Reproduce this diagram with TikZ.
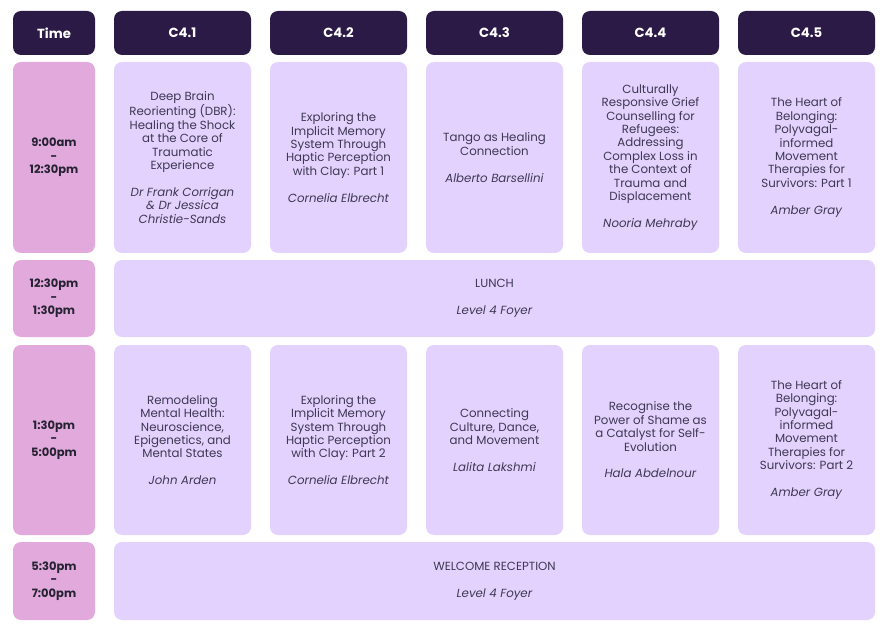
\documentclass[tikz,border=0pt]{standalone}
\usepackage{fontspec}
\setmainfont{Poppins}
\definecolor{hdr}{RGB}{42,26,69}
\definecolor{tpink}{RGB}{226,169,221}
\definecolor{lav}{RGB}{227,210,253}
\definecolor{txt}{RGB}{62,56,84}
\tikzset{
  cellbase/.style={rounded corners=8pt, inner sep=0pt, align=center, anchor=center},
  hdrcell/.style={cellbase, fill=hdr, text=white, minimum height=44pt, font={\fontsize{13.2}{15}\selectfont\bfseries}},
  timecell/.style={cellbase, fill=tpink, text=txt!60!black, minimum width=82pt, font={\fontsize{11.5}{13.5}\selectfont\bfseries}},
  sess/.style={cellbase, fill=lav, text=txt, minimum width=137pt, font={\fontsize{11.8}{13.4}\selectfont}},
  wide/.style={cellbase, fill=lav, text=txt, minimum width=761pt, font={\fontsize{11.8}{13.4}\selectfont}},
}
\newcommand{\spk}[1]{\\[13.4pt]\textit{#1}}
\begin{document}
\begin{tikzpicture}[x=1pt,y=-1pt]
\useasboundingbox (0,0) rectangle (888,628);
% header row
\node[hdrcell, minimum width=82pt] (htime) at (54,33) {Time};
\node[hdrcell, minimum width=137pt] (h1) at (182.5,33) {C4.1};
\node[hdrcell, minimum width=137pt] (h2) at (338.5,33) {C4.2};
\node[hdrcell, minimum width=137pt] (h3) at (494.5,33) {C4.3};
\node[hdrcell, minimum width=137pt] (h4) at (650.5,33) {C4.4};
\node[hdrcell, minimum width=137pt] (h5) at (806.5,33) {C4.5};
% time cells
\node[timecell, minimum height=191pt] (t1) at (54,157.5) {9:00am\\-\\12:30pm};
\node[timecell, minimum height=77pt] (t2) at (54,298.5) {12:30pm\\-\\1:30pm};
\node[timecell, minimum height=190pt] (t3) at (54,440) {1:30pm\\-\\5:00pm};
\node[timecell, minimum height=78pt] (t4) at (54,581) {5:30pm\\-\\7:00pm};
% morning sessions
\node[sess, minimum height=191pt] (a1) at (182.5,157.5) {Deep Brain\\Reorienting (DBR):\\Healing the Shock\\at the Core of\\Traumatic\\Experience\spk{Dr Frank Corrigan}\\\textit{\& Dr Jessica}\\\textit{Christie-Sands}};
\node[sess, minimum height=191pt] (a2) at (338.5,157.5) {Exploring the\\Implicit Memory\\System Through\\Haptic Perception\\with Clay: Part 1\spk{Cornelia Elbrecht}};
\node[sess, minimum height=191pt] (a3) at (494.5,157.5) {Tango as Healing\\Connection\spk{Alberto Barsellini}};
\node[sess, minimum height=191pt] (a4) at (650.5,157.5) {Culturally\\Responsive Grief\\Counselling for\\Refugees:\\Addressing\\Complex Loss in\\the Context of\\Trauma and\\Displacement\spk{Nooria Mehraby}};
\node[sess, minimum height=191pt] (a5) at (806.5,157.5) {The Heart of\\Belonging:\\Polyvagal-\\informed\\Movement\\Therapies for\\Survivors: Part 1\spk{Amber Gray}};
% lunch
\node[wide, minimum height=77pt] (lunch) at (494.5,298.5) {LUNCH\spk{Level 4 Foyer}};
% afternoon sessions
\node[sess, minimum height=190pt] (b1) at (182.5,440) {Remodeling\\Mental Health:\\Neuroscience,\\Epigenetics, and\\Mental States\spk{John Arden}};
\node[sess, minimum height=190pt] (b2) at (338.5,440) {Exploring the\\Implicit Memory\\System Through\\Haptic Perception\\with Clay: Part 2\spk{Cornelia Elbrecht}};
\node[sess, minimum height=190pt] (b3) at (494.5,440) {Connecting\\Culture, Dance,\\and Movement\spk{Lalita Lakshmi}};
\node[sess, minimum height=190pt] (b4) at (650.5,440) {Recognise the\\Power of Shame as\\a Catalyst for Self-\\Evolution\spk{Hala Abdelnour}};
\node[sess, minimum height=190pt] (b5) at (806.5,440) {The Heart of\\Belonging:\\Polyvagal-\\informed\\Movement\\Therapies for\\Survivors: Part 2\spk{Amber Gray}};
% reception
\node[wide, minimum height=78pt] (recep) at (494.5,581) {WELCOME RECEPTION\spk{Level 4 Foyer}};
\end{tikzpicture}
\end{document}
